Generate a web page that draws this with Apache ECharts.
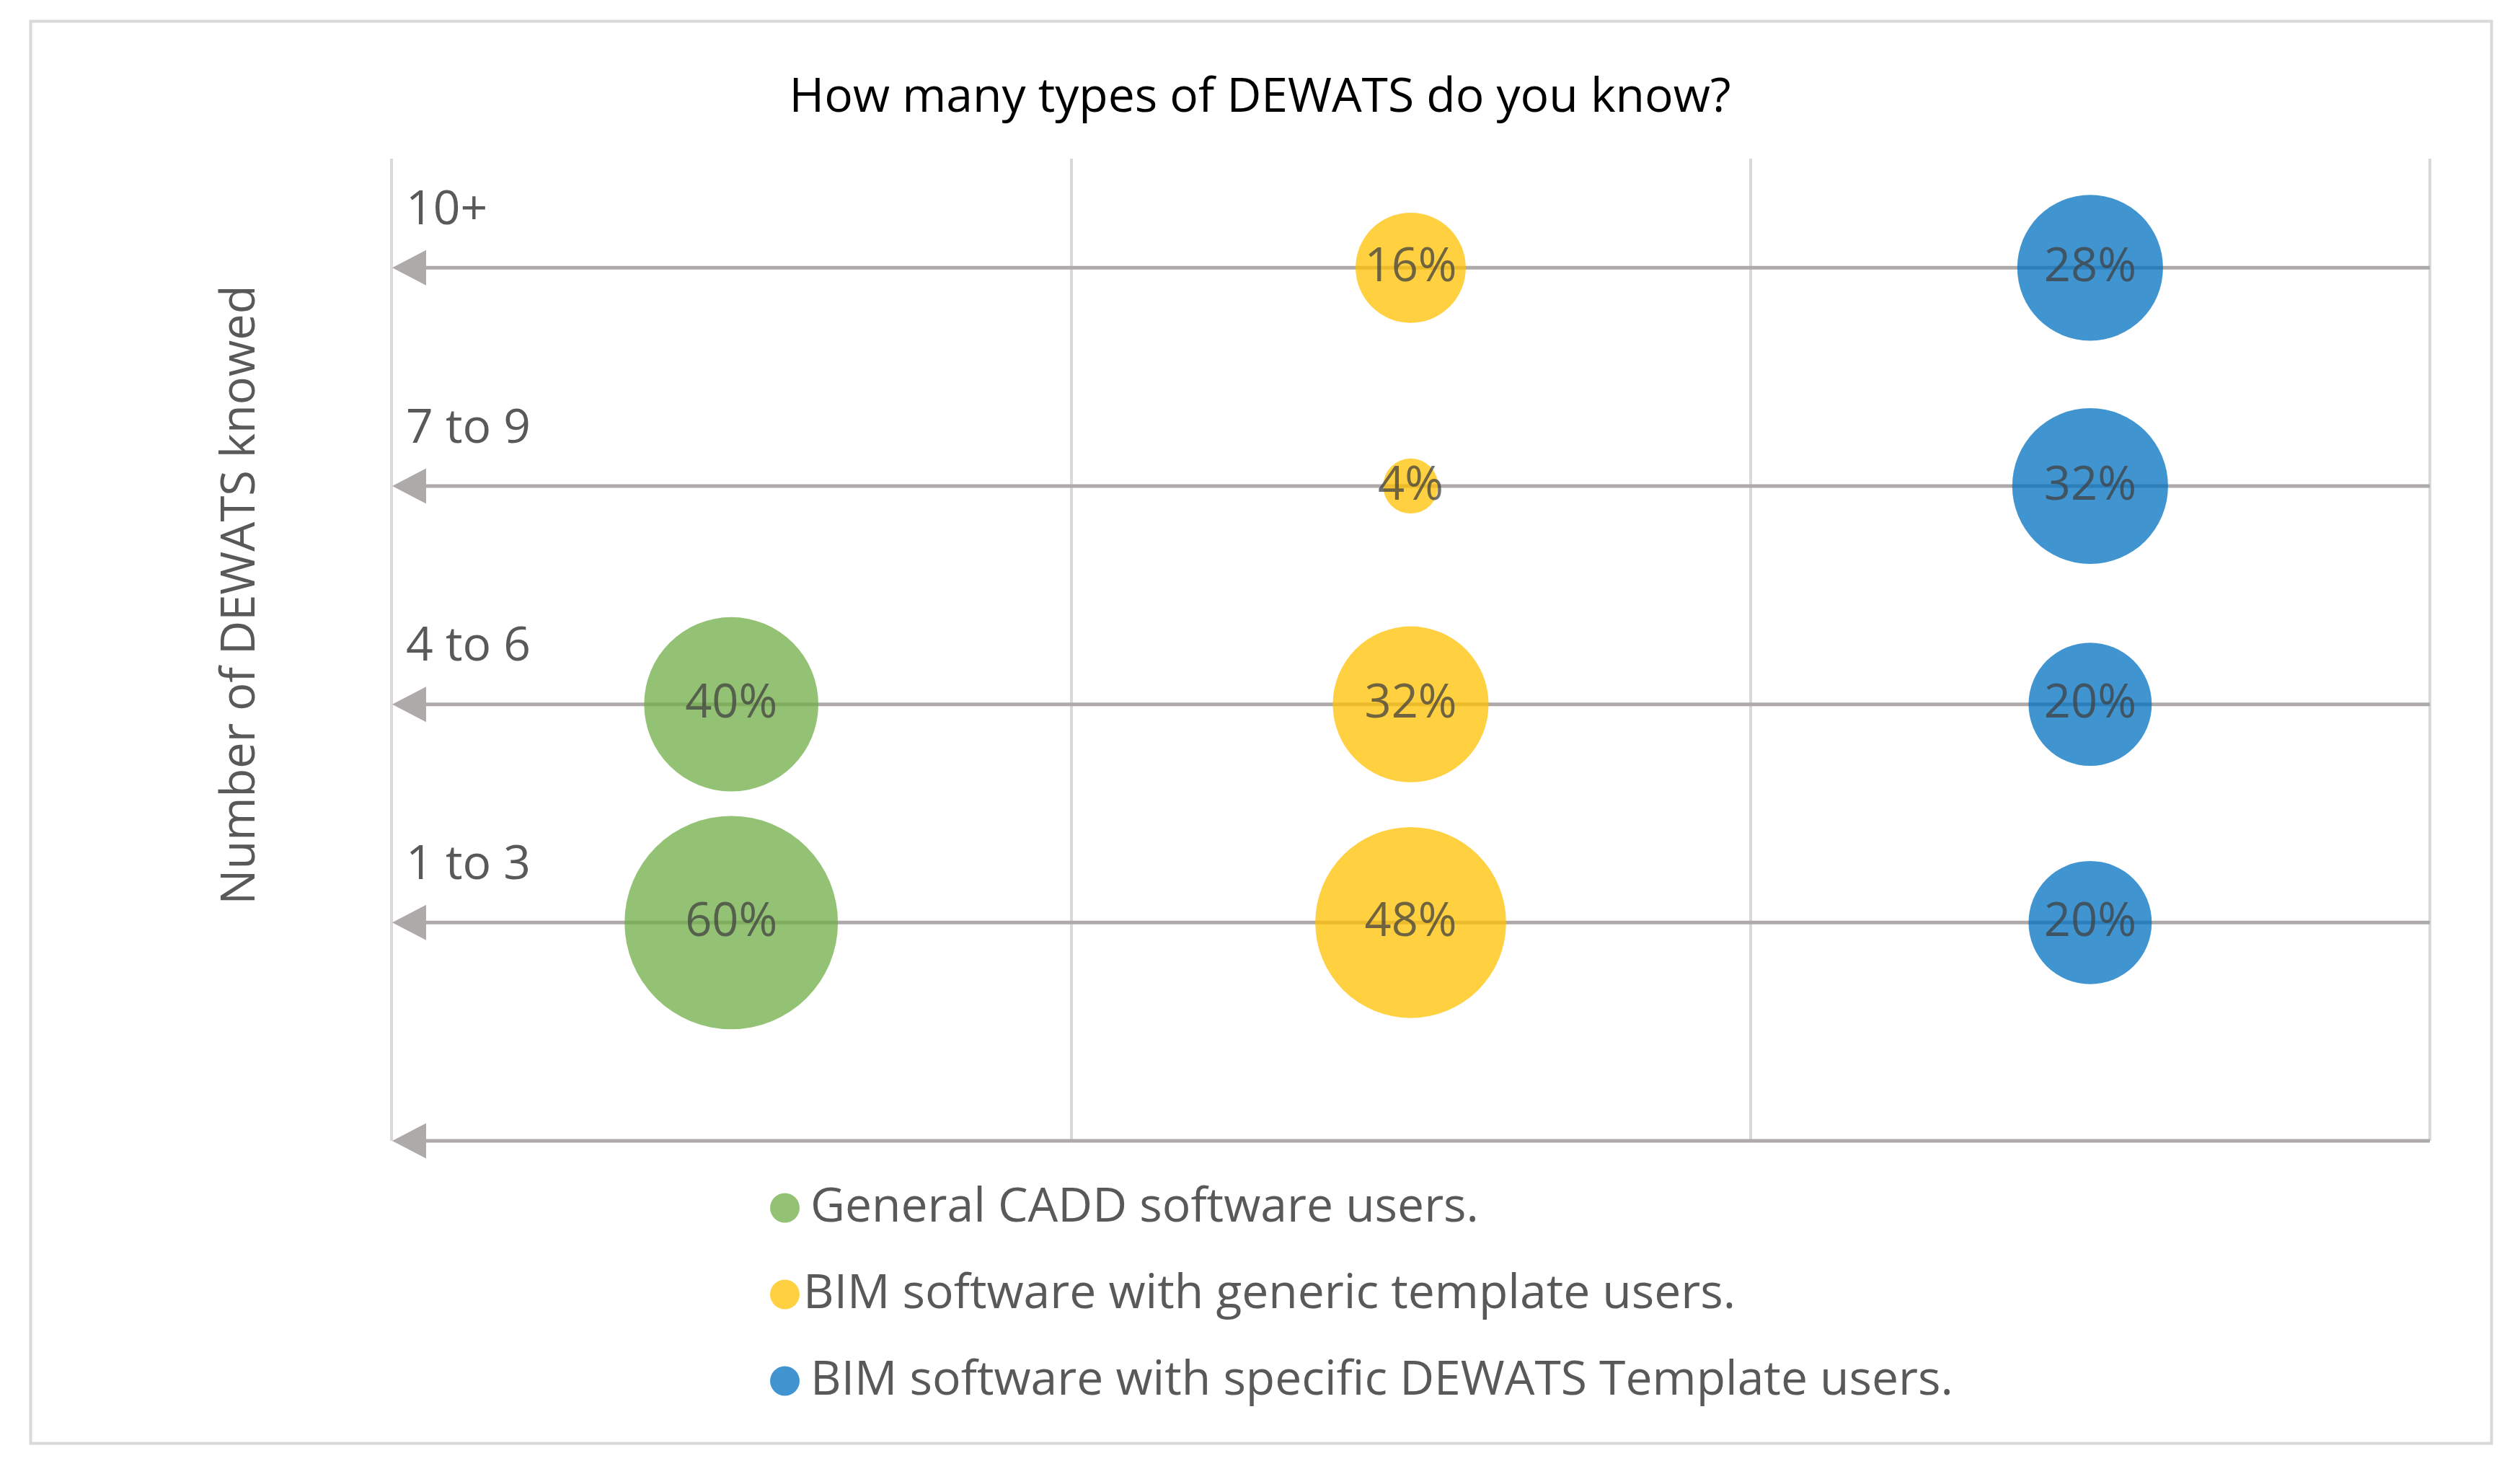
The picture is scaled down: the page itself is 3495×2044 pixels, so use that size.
<!DOCTYPE html>
<html>
<head>
<meta charset="utf-8">
<script src="https://cdn.jsdelivr.net/npm/echarts@6/dist/echarts.min.js"></script>
<style>
html,body{margin:0;padding:0;background:#fff;}
#chart{width:3495px;height:2044px;}
</style>
</head>
<body>
<div id="chart"></div>
<script>
// ---- data ----
const titleText = 'How many types of DEWATS do you know?';
const yAxisName = 'Number of DEWATS knowed';
const yCategories = ['1 to 3', '4 to 6', '7 to 9', '10+'];      // rows, bottom to top
const seriesNames = [
  'General CADD software users.',
  'BIM software with generic template users.',
  'BIM software with specific DEWATS Template users.'
];
const cadValues      = [60, 40, null, null];   // % per row
const genericValues  = [48, 32, 4, 16];
const specificValues = [20, 20, 32, 28];
const seriesColors = ['#70AD47', '#FFC000', '#0070C0'];
const arrowRows = [0, 1, 2, 3, 4];              // arrow lines at these y values

// ---- build ----
const allValues = [cadValues, genericValues, specificValues];
const X_MIN = 0, X_MAX = 3;
const FONT = '"Open Sans", "Noto Sans", sans-serif';

function rowData(vals, colIdx) {
  const out = [];
  vals.forEach((v, i) => { if (v != null) out.push([colIdx + 0.5, i + 1, v]); });
  return out;
}

const chart = echarts.init(document.getElementById('chart'), null, {renderer: 'canvas'});

const scatterSeries = seriesNames.map((name, k) => ({
  name: name,
  type: 'scatter',
  z: 3,
  data: rowData(allValues[k], k),
  symbol: 'circle',
  symbolSize: d => 38.2 * Math.sqrt(d[2]),
  itemStyle: {color: seriesColors[k], opacity: 0.75},
  label: {
    show: true,
    position: 'inside',
    formatter: p => p.value[2] + '%',
    color: '#404040',
    fontFamily: FONT,
    fontSize: 65
  },
  emphasis: {disabled: true}
}));

const arrowSeries = {
  name: 'rows',
  type: 'custom',
  z: 1,
  silent: true,
  data: arrowRows.map(v => [v]),
  renderItem: function (params, api) {
    const y = api.value(0);
    const p0 = api.coord([X_MIN, y]);
    const p1 = api.coord([X_MAX, y]);
    const aw = 48, ah = 49;
    return {
      type: 'group',
      children: [
        {type: 'line', shape: {x1: p0[0] + aw - 2, y1: p0[1], x2: p1[0], y2: p1[1]},
         style: {stroke: '#AEAAAA', lineWidth: 5}},
        {type: 'polygon', shape: {points: [[p0[0] + 1, p0[1]], [p0[0] + aw, p0[1] - ah / 2], [p0[0] + aw, p0[1] + ah / 2]]},
         style: {fill: '#AEAAAA'}}
      ]
    };
  }
};

const option = {
  backgroundColor: '#ffffff',
  animation: false,
  title: {
    text: titleText,
    left: 'center',
    top: 98,
    textStyle: {fontFamily: FONT, fontSize: 66, fontWeight: 'normal', color: '#000000', lineHeight: 66}
  },
  graphic: [{
    type: 'rect', left: 40, top: 27, z: -1,
    shape: {width: 3413, height: 1972},
    style: {fill: 'none', stroke: '#D9D9D9', lineWidth: 4}
  }],
  legend: {
    orient: 'vertical',
    left: 1063,
    top: 1637,
    itemGap: 54,
    itemWidth: 41,
    itemHeight: 41,
    icon: 'circle',
    selectedMode: false,
    data: seriesNames.map((n, i) => ({name: n, textStyle: {padding: [0, 0, 0, i === 1 ? 0 : 10]}})),
    textStyle: {fontFamily: FONT, fontSize: 66, color: '#595959', lineHeight: 66}
  },
  grid: {left: 543, right: 125, top: 220, bottom: 462, containLabel: false},
  xAxis: {
    type: 'value', min: X_MIN, max: X_MAX, interval: 1,
    axisLine: {show: false}, axisTick: {show: false}, axisLabel: {show: false},
    splitLine: {show: true, lineStyle: {color: '#D9D9D9', width: 4}}
  },
  yAxis: {
    type: 'value', min: 0, max: 4.5, interval: 1,
    name: yAxisName,
    nameLocation: 'middle',
    nameGap: 176,
    nameTextStyle: {fontFamily: FONT, fontSize: 65, color: '#595959', padding: [0, 0, 0, 152]},
    axisLine: {show: false}, axisTick: {show: false},
    splitLine: {show: false},
    axisLabel: {
      inside: true,
      margin: 20,
      verticalAlign: 'bottom',
      padding: [0, 0, 46, 0],
      fontFamily: FONT, fontSize: 66, color: '#595959', lineHeight: 66,
      formatter: v => (Number.isInteger(v) && v >= 1 && v <= yCategories.length) ? yCategories[v - 1] : ''
    }
  },
  series: [arrowSeries].concat(scatterSeries)
};
chart.setOption(option);
</script>
</body>
</html>
